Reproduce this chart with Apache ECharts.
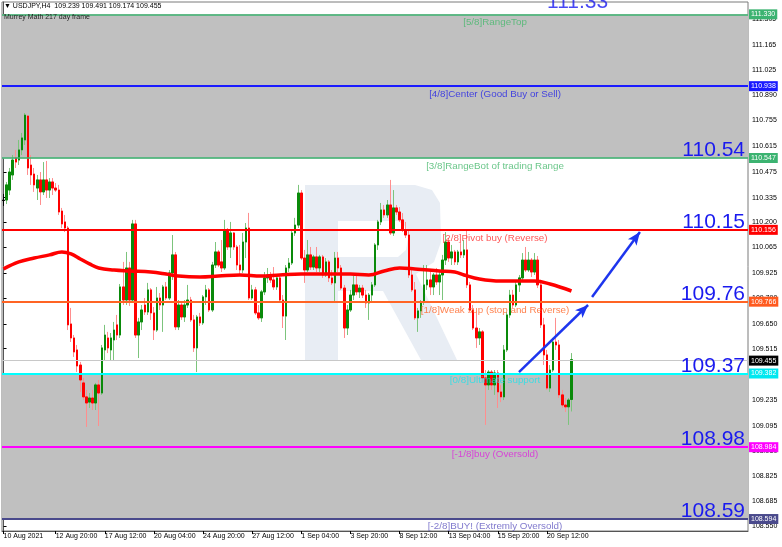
<!DOCTYPE html>
<html><head><meta charset="utf-8">
<script src="https://cdn.jsdelivr.net/npm/echarts@6/dist/echarts.min.js"></script>
<style>html,body{margin:0;padding:0;background:#fff}#c{width:782px;height:547px}</style>
</head><body><div id="c"></div>
<script>
// ---- data (USDJPY H4) ----
const barOpen = [110.320,110.322,110.376,110.458,110.550,110.539,110.594,110.648,110.778,110.512,
110.463,110.387,110.431,110.366,110.431,110.376,110.420,110.387,110.376,110.262,
110.203,110.170,109.649,109.573,109.508,109.426,109.329,109.253,109.225,109.247,
109.220,109.318,109.274,109.508,109.573,109.508,109.562,109.644,109.589,109.850,
109.779,109.953,109.779,110.192,109.589,109.660,109.752,109.714,109.834,109.709,
109.616,109.790,109.752,109.850,109.790,109.926,110.024,109.633,109.752,109.687,
109.752,109.779,109.671,109.519,109.687,109.655,109.796,109.834,109.725,109.969,
110.040,109.986,109.953,110.159,110.067,110.143,110.067,109.969,109.942,110.094,
110.170,109.790,109.834,109.709,109.682,109.823,109.899,109.915,109.888,109.850,
109.899,109.779,109.692,109.953,109.980,110.143,110.186,110.360,110.007,109.942,
110.024,109.958,110.013,109.953,110.013,109.915,109.986,109.899,109.872,110.007,
109.953,109.844,109.627,109.725,109.806,109.861,109.823,109.844,109.806,109.763,
109.806,109.861,110.078,110.203,110.268,110.241,110.295,110.143,110.279,110.257,
110.214,110.159,110.132,109.915,109.834,109.682,109.720,109.768,109.861,109.888,
109.850,109.915,109.877,109.915,109.996,110.094,110.007,110.040,109.986,110.040,
110.024,110.051,109.861,109.725,109.627,109.573,109.606,109.356,109.318,109.388,
109.318,109.383,109.280,109.253,109.508,109.698,109.806,109.752,109.861,109.899,
109.996,109.942,109.996,109.931,109.996,109.861,109.644,109.481,109.301,109.399,
109.551,109.535,109.264,109.209,109.199,109.239];
const barClose = [110.320,110.404,110.474,110.539,110.528,110.594,110.659,110.783,110.496,110.458,
110.404,110.431,110.366,110.431,110.376,110.420,110.387,110.376,110.257,110.192,
110.170,109.644,109.573,109.497,109.421,109.345,109.253,109.220,109.247,109.220,
109.318,109.274,109.519,109.589,109.519,109.573,109.616,109.589,109.850,109.779,
109.953,109.779,110.192,109.589,109.660,109.725,109.714,109.834,109.709,109.616,
109.790,109.752,109.850,109.790,109.926,110.024,109.633,109.752,109.687,109.752,
109.779,109.671,109.519,109.687,109.655,109.796,109.834,109.725,109.969,110.040,
109.969,109.953,110.159,110.067,110.143,110.067,109.969,109.942,110.094,110.170,
109.790,109.834,109.709,109.682,109.823,109.899,109.915,109.888,109.850,109.899,
109.779,109.692,109.953,109.980,110.143,110.186,110.360,110.007,109.942,110.024,
109.958,110.013,109.953,110.013,109.915,109.986,109.899,109.872,110.007,109.953,
109.844,109.627,109.725,109.806,109.861,109.823,109.844,109.806,109.763,109.806,
109.861,110.078,110.203,110.268,110.241,110.295,110.143,110.279,110.257,110.214,
110.159,110.132,109.915,109.834,109.682,109.720,109.768,109.861,109.888,109.850,
109.915,109.877,109.915,109.996,110.094,110.007,110.040,109.986,110.040,110.024,
110.051,109.861,109.725,109.627,109.573,109.606,109.356,109.318,109.388,109.318,
109.383,109.280,109.253,109.508,109.698,109.806,109.752,109.861,109.899,109.996,
109.942,109.996,109.931,109.996,109.861,109.644,109.481,109.301,109.399,109.551,
109.535,109.264,109.209,109.199,109.236,109.455];
const barLow = [110.290,110.300,110.349,110.431,110.496,110.512,110.566,110.621,110.458,110.404,
110.366,110.322,110.295,110.349,110.333,110.333,110.349,110.366,110.241,110.170,
110.148,109.616,109.551,109.470,109.388,109.280,109.236,109.090,109.193,109.182,
109.182,109.095,109.264,109.453,109.491,109.453,109.453,109.562,109.573,109.752,
109.752,109.747,109.763,109.573,109.464,109.616,109.698,109.698,109.671,109.562,
109.606,109.725,109.606,109.779,109.779,109.888,109.616,109.616,109.671,109.660,
109.736,109.660,109.497,109.388,109.638,109.644,109.752,109.714,109.714,109.953,
109.958,109.931,109.942,110.051,110.007,110.051,109.942,109.915,109.926,110.007,
109.779,109.779,109.698,109.671,109.660,109.806,109.872,109.872,109.834,109.834,
109.763,109.627,109.562,109.931,109.969,110.127,110.170,109.996,109.872,109.931,
109.942,109.942,109.931,109.931,109.899,109.904,109.877,109.861,109.768,109.931,
109.834,109.573,109.589,109.714,109.779,109.806,109.790,109.790,109.736,109.671,
109.768,109.850,110.051,110.186,110.225,110.225,110.132,110.127,110.241,110.203,
110.148,110.116,109.899,109.823,109.671,109.606,109.682,109.752,109.834,109.806,
109.806,109.861,109.806,109.779,109.969,109.986,109.969,109.969,109.969,110.007,
110.007,109.844,109.714,109.616,109.519,109.535,109.334,109.101,109.291,109.291,
109.264,109.193,109.225,109.236,109.497,109.682,109.736,109.741,109.823,109.877,
109.931,109.931,109.904,109.915,109.844,109.627,109.426,109.291,109.280,109.388,
109.508,109.247,109.193,109.171,109.101,109.174];
const barHigh = [110.355,110.420,110.496,110.566,110.594,110.648,110.686,110.794,110.783,110.566,
110.496,110.458,110.474,110.528,110.534,110.441,110.441,110.414,110.404,110.279,
110.241,110.181,109.736,109.589,109.535,109.443,109.356,109.291,109.274,109.291,
109.329,109.345,109.535,109.644,109.606,109.600,109.660,109.698,109.866,109.986,
110.040,109.986,110.214,110.214,109.682,109.752,109.790,109.872,109.844,109.741,
109.850,109.817,109.861,109.877,109.942,110.132,110.040,109.779,109.763,109.779,
109.861,109.796,109.698,109.698,109.709,109.806,109.861,109.844,109.986,110.094,
110.051,110.105,110.214,110.170,110.203,110.148,110.078,110.078,110.143,110.197,
110.252,109.861,109.850,109.752,109.834,109.931,109.953,109.931,109.958,109.915,
109.909,109.806,109.969,110.007,110.159,110.225,110.404,110.376,110.051,110.105,
110.067,110.024,110.067,110.024,110.024,110.007,109.996,109.942,110.040,110.040,
109.969,109.861,109.752,109.834,109.915,109.915,109.861,109.861,109.834,109.817,
109.877,110.088,110.214,110.306,110.295,110.322,110.431,110.376,110.295,110.284,
110.251,110.203,110.159,109.953,109.877,109.736,109.779,109.969,109.969,109.931,
109.926,109.953,109.942,110.024,110.148,110.116,110.078,110.051,110.051,110.088,
110.105,110.159,109.877,109.752,109.709,109.627,109.616,109.399,109.399,109.399,
109.399,109.399,109.318,109.535,109.714,109.834,109.834,109.877,109.915,110.034,
110.067,110.040,110.007,110.034,110.018,109.888,109.682,109.508,109.426,109.573,
109.682,109.562,109.291,109.247,109.247,109.491];

// moving average (read at sample bars)
const maBar = [0,5,10,15,19,22,25,28,31,36,41,48,53,57,64,70,77,84,90,97,103,113,119,124,129,134,142,147,150,155,162,168,173,178,185];
const maValue = [109.948,109.986,110.007,110.024,110.040,110.029,110.002,109.975,109.953,109.942,109.937,109.931,109.920,109.909,109.904,109.909,109.915,109.909,109.915,109.920,109.920,109.920,109.915,109.937,109.953,109.948,109.937,109.931,109.915,109.893,109.882,109.882,109.882,109.866,109.828];

// Murrey Math levels
const levelValues = [111.330,110.938,110.547,110.156,109.766,109.382,108.984,108.594];
const levelNames = ['[5/8]RangeTop','[4/8]Center (Good Buy or Sell)','[3/8]RangeBot of trading Range','[2/8]Pivot buy (Reverse)','[1/8]Weak sup (stop and Reverse)','[0/8]Ultimate support','[-1/8]buy (Oversold)','[-2/8]BUY! (Extremly Oversold)'];
const currentPrice = 109.455;
const bigLevel = [110.547,110.156,109.766,109.382,108.984,108.594];
const bigText = ['110.54','110.15','109.76','109.37','108.98','108.59'];
const topBigLevel = 111.330, topBigText = '111.33', topBigBar = 187;
const levelNameBar = 160.1;

// forecast arrows [bar, price]
const arrowFrom = [[167.9,109.388],[191.7,109.796]];
const arrowTo = [[190.4,109.752],[207.3,110.148]];

// axes
const xTickBar = [0,17,33,49,65,81,97,113,129,145,161,177];
const xTickText = ['10 Aug 2021','12 Aug 20:00','17 Aug 12:00','20 Aug 04:00','24 Aug 20:00','27 Aug 12:00','1 Sep 04:00','3 Sep 20:00','8 Sep 12:00','13 Sep 04:00','15 Sep 20:00','20 Sep 12:00'];
const yTicks = [111.305,111.165,111.025,110.890,110.755,110.615,110.475,110.335,110.200,110.065,109.925,109.790,109.650,109.515,109.375,109.235,109.095,108.960,108.825,108.685,108.550];
const yMin = 108.525, yMax = 111.397;
const N_SLOTS = 243;

// ---- styles ----
const levelLineColors = ['#3cb371','#1a1aff','#3cb371','#ff0000','#ff6424','#00ffff','#ff00ff','#4a4a8c'];
const levelTextColors = ['#45b86c','#2323e6','#45b86c','#ff2e2e','#ff6424','#1ee2ea','#dd22dd','#6058c0'];
const levelTagColors = ['#3cb371','#1a1aff','#3cb371','#ff0000','#ff5a1f','#00e8f0','#ff00ff','#4a4a8c'];
const levelWidths = [1.5,2,1.5,2,2,2,2,2];
const FONT = 'Liberation Sans';

// categories
const MON = ['Jan','Feb','Mar','Apr','May','Jun','Jul','Aug','Sep','Oct','Nov','Dec'];
const cats = [];
(function(){
  const d = new Date(Date.UTC(2021,7,10));
  while (cats.length < barOpen.length) {
    const wd = d.getUTCDay();
    if (wd !== 0 && wd !== 6) {
      for (let h = 0; h < 24; h += 4) cats.push(d.getUTCDate()+' '+MON[d.getUTCMonth()]+' '+String(h).padStart(2,'0')+':00');
    }
    d.setUTCDate(d.getUTCDate()+1);
  }
  cats.length = barOpen.length;
  let k = 0;
  while (cats.length < N_SLOTS) cats.push('_' + (k++));
})();
const tickMap = {};
xTickBar.forEach((b,k)=>{ tickMap[b] = xTickText[k]; });

const wickData = barOpen.map((o,i)=>[o, barClose[i], barLow[i], barHigh[i]]);
const bodyData = barOpen.map((o,i)=>[o, barClose[i], Math.min(o,barClose[i]), Math.max(o,barClose[i])]);
const maData = maBar.map((b,k)=>[b, maValue[k]]);

const levelMarks = levelValues.map((v,k)=>({
  yAxis: v,
  lineStyle:{color: levelLineColors[k], width: levelWidths[k], type:'solid'},
  label:{show:true, position:'end', distance:1, formatter: v.toFixed(3), backgroundColor: levelTagColors[k],
    color:'#fff', fontSize:7, fontFamily:FONT, padding:[1,2,1,2], lineHeight:8}
}));
levelMarks.push({
  yAxis: currentPrice,
  lineStyle:{color:'#c8c8c8', width:1, type:'solid'},
  label:{show:true, position:'end', distance:1, formatter: currentPrice.toFixed(3), backgroundColor:'#000',
    color:'#fff', fontSize:7, fontFamily:FONT, padding:[1,2,1,2], lineHeight:8}
});
const bigMarks = bigLevel.map((v,k)=>({
  yAxis: v,
  lineStyle:{color:'rgba(0,0,0,0)', width:0},
  label:{show:true, position:'insideEndTop', distance:1, offset:[-2,4], formatter: bigText[k], fontSize:21, color:'#1a1aef', fontFamily:FONT}
}));

const chart = echarts.init(document.getElementById('c'), null, {renderer:'canvas'});
chart.setOption({
  animation:false,
  backgroundColor:'#fff',
  grid:{left:2, right:34, top:2, bottom:16, show:true, borderColor:'#7a7a7a', borderWidth:1, backgroundColor:'transparent'},
  xAxis:[{
    type:'category', data: cats, boundaryGap:true,
    axisLine:{show:true, lineStyle:{color:'#555'}},
    axisTick:{show:true, alignWithLabel:true, length:3, interval:(i)=> tickMap[i]!==undefined, lineStyle:{color:'#000'}},
    axisLabel:{show:true, interval:(i)=> tickMap[i]!==undefined, formatter:(v,i)=> tickMap[i] || '', align:'left',
      fontSize:7, color:'#000', margin:2, fontFamily:FONT},
    splitLine:{show:false}
  },{
    type:'value', min:-0.5, max:N_SLOTS-0.5, show:false
  }],
  yAxis:{
    type:'value', position:'right', min:yMin, max:yMax,
    axisLine:{show:true, lineStyle:{color:'#555'}},
    axisTick:{show:true, customValues:yTicks, length:3, lineStyle:{color:'#000'}},
    axisLabel:{show:true, customValues:yTicks, formatter:(v)=> v.toFixed(3), fontSize:7, color:'#000', margin:4, fontFamily:FONT},
    splitLine:{show:false}
  },
  graphic:[
    {type:'polygon', z:0, zlevel:0, silent:true, shape:{points:[[305,185],[415,185],[432,190],[440,203],[441,242],[434,262],[416,274],[457,360],[421,360],[383,291],[338,291],[338,360],[305,360]]}, style:{fill:'#e8edf4'}},
    {type:'polygon', z:0, zlevel:0, silent:true, shape:{points:[[338,221],[398,221],[406,227],[408,238],[406,250],[398,257],[338,257]]}, style:{fill:'#fff'}},
    {type:'text', left:4, top:3, z:10, style:{text:'▼ USDJPY,H4  '+[barOpen[185],barHigh[185],barLow[185],barClose[185]].map(v=>v.toFixed(3)).join(' '), font:'7px "Liberation Sans"', fill:'#000'}},
    {type:'text', left:4, top:14, z:10, style:{text:'Murrey Math 217 day frame', font:'7px "Liberation Sans"', fill:'#222'}}
  ],
  series:[
    {type:'line', name:'zones', xAxisIndex:1, data:[], z:0, silent:true,
      markArea:{silent:true, itemStyle:{color:'#c0c0c0'}, data:[[{yAxis:levelValues[0]},{yAxis:levelValues[2]}],[{yAxis:levelValues[5]},{yAxis:levelValues[7]}]]}},
    {type:'line', name:'levels', xAxisIndex:1, data:[], z:1, silent:true,
      markLine:{silent:true, symbol:'none', animation:false, data: levelMarks}},
    {type:'candlestick', name:'wicks', data: wickData, z:2, barWidth:2,
      itemStyle:{color:'rgba(0,0,0,0)', color0:'rgba(0,0,0,0)', borderColor:'#7cc47c', borderColor0:'#ff8e8e', borderColorDoji:'#000', borderWidth:1}},
    {type:'candlestick', name:'bodies', data: bodyData, z:3, barWidth:2,
      itemStyle:{color:'#0a8a0a', color0:'#ff0000', borderColor:'#0a8a0a', borderColor0:'#ff0000', borderColorDoji:'#000', borderWidth:1}},
    {type:'line', name:'MA', xAxisIndex:1, data: maData, z:4, smooth:0.4, symbol:'none',
      lineStyle:{color:'#ff0000', width:3.5}},
    {type:'scatter', name:'levelNames', xAxisIndex:1, z:6, symbolSize:1, itemStyle:{color:'rgba(0,0,0,0)'},
      data: levelValues.map((v,k)=>({name: levelNames[k], value:[levelNameBar, v], label:{color: levelTextColors[k]}})),
      label:{show:true, position:'bottom', distance:2, formatter:'{b}', fontSize:9.8, fontFamily:FONT}},
    {type:'scatter', name:'topBig', xAxisIndex:1, z:6, symbolSize:1, itemStyle:{color:'rgba(0,0,0,0)'},
      data:[{value:[topBigBar, topBigLevel]}],
      label:{show:true, position:'top', distance:1, formatter: topBigText, fontSize:21, color:'#1a1aef', fontFamily:FONT}},
    {type:'line', name:'bigLabels', xAxisIndex:1, data:[], z:6, silent:true,
      markLine:{silent:true, symbol:'none', animation:false, data: bigMarks}},
    {type:'line', name:'arrows', xAxisIndex:1, data:[], z:7, silent:true,
      markLine:{silent:true, symbol:['none','arrow'], symbolSize:[8,13], animation:false,
        lineStyle:{color:'#1d35ee', width:2.5, type:'solid'}, label:{show:false},
        data: arrowFrom.map((a,k)=>[{coord:a},{coord:arrowTo[k]}])}}
  ]
});
</script>
</body></html>
